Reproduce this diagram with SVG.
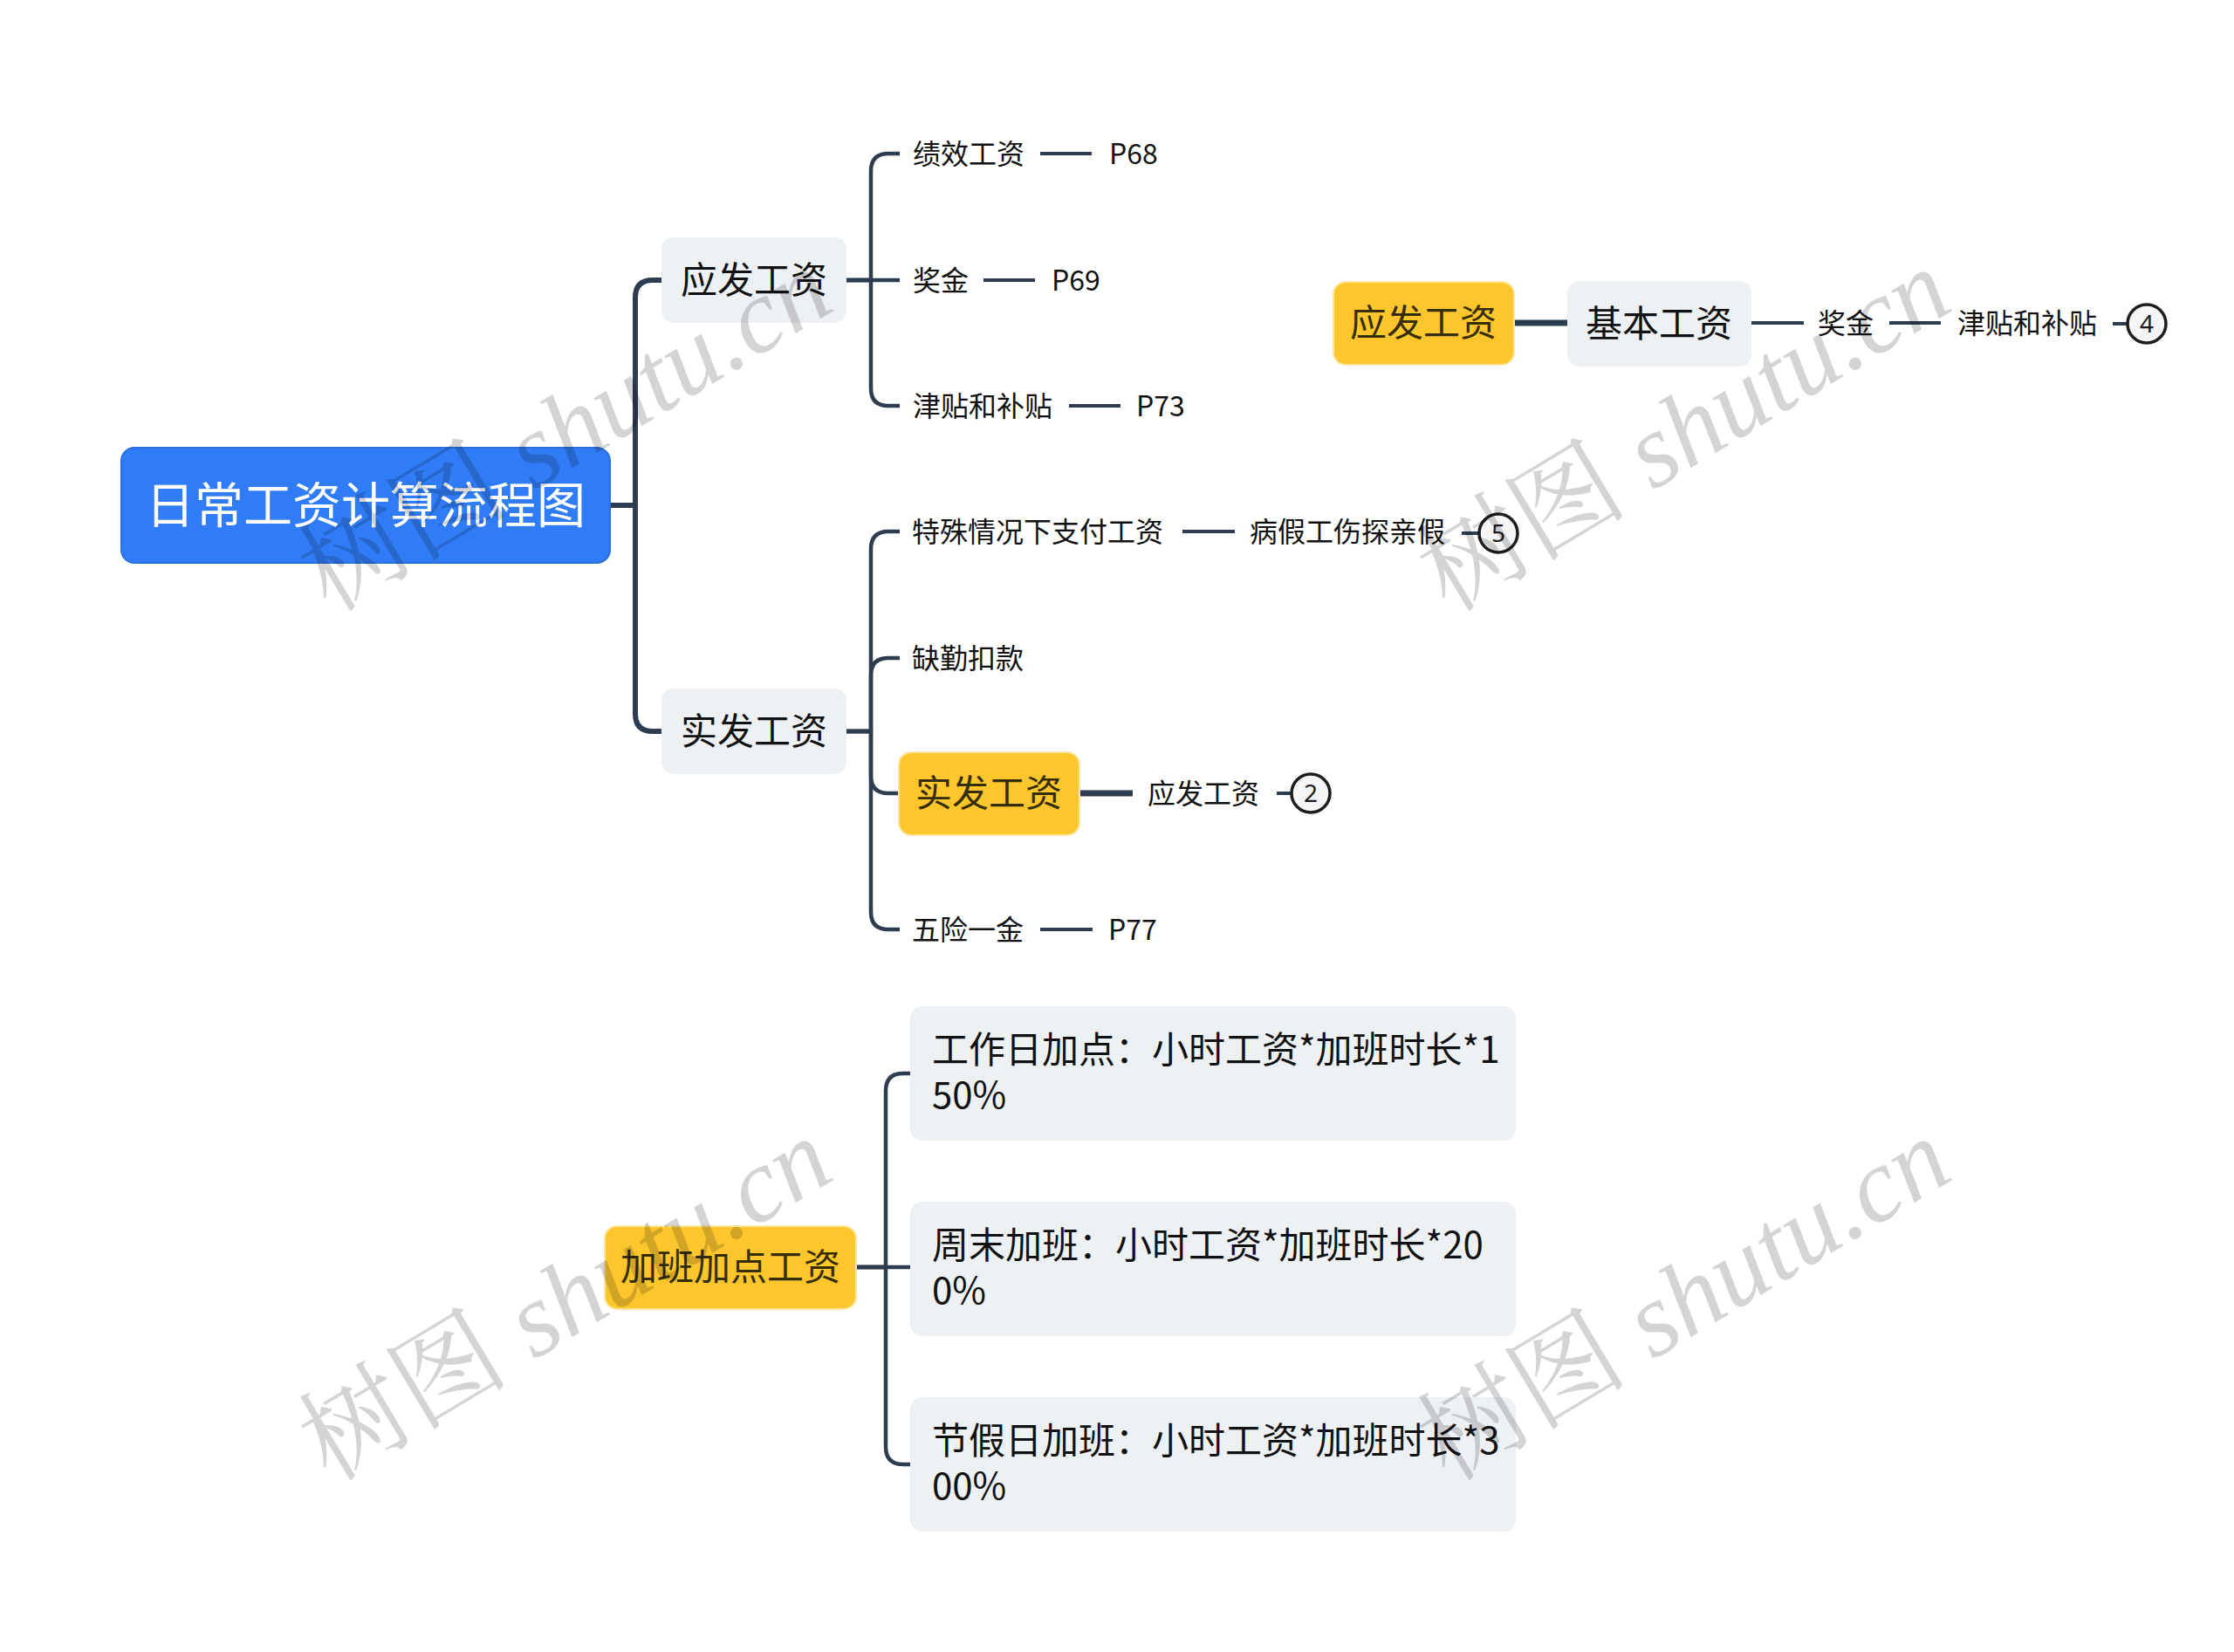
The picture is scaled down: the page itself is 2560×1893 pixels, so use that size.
<svg xmlns="http://www.w3.org/2000/svg" width="2560" height="1893" viewBox="0 0 2560 1893">
<defs>
<style>
.bg{fill:#ffffff}
.c{fill:none;stroke:#2e3c4f;stroke-linecap:butt;stroke-linejoin:round}
.c1{stroke-width:6}
.c2{stroke-width:4.5}
.c3{stroke-width:4}
.c4{stroke-width:7}
.t{font-family:"Noto Sans CJK SC","Microsoft YaHei",sans-serif;fill:#111111}
.leaf{font-size:32px}
.sub{font-size:42px}
.root{font-size:56px;fill:#ffffff}
.ylw{fill:#fdc62d;stroke:#fbe7a3;stroke-width:2}
.grey{fill:#eef1f4}
.ytext{fill:#362e08}
.circ{fill:#f4f5f6;stroke:#1d1d1d;stroke-width:3.5}
.num{font-family:"Noto Sans","Liberation Sans",sans-serif;font-size:28px;fill:#1d1d1d;text-anchor:middle}
.wm{font-family:"Liberation Serif","Noto Serif CJK SC","Noto Sans CJK SC",serif;font-size:121px;fill:#000000;fill-opacity:0.17}
</style>
</defs>
<rect class="bg" x="0" y="0" width="2560" height="1893"/>

<g id="connectors">
  <path class="c c1" d="M699 579 H728 V341 Q728 321 748 321 H758"/>
  <path class="c c1" d="M699 579 H728 V818 Q728 838 748 838 H758"/>
  <path class="c c2" d="M970 321 H998 V196 Q998 176 1018 176 H1031"/>
  <path class="c c2" d="M970 321 H1031"/>
  <path class="c c2" d="M970 321 H998 V445 Q998 465 1018 465 H1031"/>
  <path class="c c2" d="M970 838 H998 V629 Q998 609 1018 609 H1031"/>
  <path class="c c2" d="M970 838 H998 V774 Q998 754 1018 754 H1031"/>
  <path class="c c2" d="M970 838 H998 V889 Q998 909 1018 909 H1031"/>
  <path class="c c2" d="M970 838 H998 V1045 Q998 1065 1018 1065 H1031"/>
  <path class="c c3" d="M1192 176 H1251"/>
  <path class="c c3" d="M1127 321 H1186"/>
  <path class="c c3" d="M1225 465 H1284"/>
  <path class="c c3" d="M1355 609 H1415"/>
  <path class="c c3" d="M1675 611 H1695"/>
  <path class="c c4" d="M1237 909 H1298"/>
  <path class="c c3" d="M1463 909 H1480"/>
  <path class="c c3" d="M1192 1065 H1252"/>
  <path class="c c4" d="M1735 370 H1796"/>
  <path class="c c3" d="M2007 370 H2067"/>
  <path class="c c3" d="M2165 370 H2224"/>
  <path class="c c3" d="M2421 371 H2438"/>
  <path class="c c2" d="M981 1452 H1015 V1250 Q1015 1230 1035 1230 H1043"/>
  <path class="c c2" d="M981 1452 H1043"/>
  <path class="c c2" d="M981 1452 H1015 V1658 Q1015 1678 1035 1678 H1043"/>
</g>

<g id="root">
  <rect x="139" y="513" width="560" height="132" rx="15" fill="#2f7cf6" stroke="#2a6fdc" stroke-width="2"/>
  <text class="t root" x="419" y="599" text-anchor="middle">日常工资计算流程图</text>
</g>

<g id="n-yingfa">
  <rect class="grey" x="758" y="272" width="212" height="98" rx="14"/>
  <text class="t sub" x="864" y="336" text-anchor="middle">应发工资</text>
</g>
<g id="n-shifa">
  <rect class="grey" x="758" y="789" width="212" height="98" rx="14"/>
  <text class="t sub" x="864" y="853" text-anchor="middle">实发工资</text>
</g>

<g id="n-jixiao"><text class="t leaf" x="1046" y="188">绩效工资</text></g>
<g id="n-p68"><text class="t leaf" x="1271" y="188">P68</text></g>
<g id="n-jiangjin"><text class="t leaf" x="1046" y="333">奖金</text></g>
<g id="n-p69"><text class="t leaf" x="1205" y="333">P69</text></g>
<g id="n-jintie"><text class="t leaf" x="1046" y="477">津贴和补贴</text></g>
<g id="n-p73"><text class="t leaf" x="1302" y="477">P73</text></g>

<g id="n-teshu"><text class="t leaf" x="1045" y="621">特殊情况下支付工资</text></g>
<g id="n-bingjia"><text class="t leaf" x="1432" y="621">病假工伤探亲假</text></g>
<g id="n-c5"><circle class="circ" cx="1717" cy="611" r="22"/><text class="num" x="1717" y="621">5</text></g>
<g id="n-queqin"><text class="t leaf" x="1045" y="766">缺勤扣款</text></g>
<g id="n-shifa2">
  <rect class="ylw" x="1030" y="862" width="207" height="95" rx="14"/>
  <text class="t sub ytext" x="1133" y="924" text-anchor="middle">实发工资</text>
</g>
<g id="n-yingfa-leaf"><text class="t leaf" x="1315" y="921">应发工资</text></g>
<g id="n-c2"><circle class="circ" cx="1502" cy="909" r="22"/><text class="num" x="1502" y="919">2</text></g>
<g id="n-wuxian"><text class="t leaf" x="1045" y="1077">五险一金</text></g>
<g id="n-p77"><text class="t leaf" x="1270" y="1077">P77</text></g>

<g id="n-yingfa3">
  <rect class="ylw" x="1528" y="323" width="207" height="95" rx="14"/>
  <text class="t sub ytext" x="1631" y="385" text-anchor="middle">应发工资</text>
</g>
<g id="n-jiben">
  <rect class="grey" x="1796" y="322" width="211" height="98" rx="14"/>
  <text class="t sub" x="1901" y="386" text-anchor="middle">基本工资</text>
</g>
<g id="n-jiangjin2"><text class="t leaf" x="2083" y="382">奖金</text></g>
<g id="n-jintie2"><text class="t leaf" x="2243" y="382">津贴和补贴</text></g>
<g id="n-c4"><circle class="circ" cx="2460" cy="371" r="22"/><text class="num" x="2460" y="381">4</text></g>

<g id="n-jiaban">
  <rect class="ylw" x="693" y="1405" width="288" height="95" rx="14"/>
  <text class="t sub ytext" x="837" y="1467" text-anchor="middle">加班加点工资</text>
</g>
<g id="n-ot1">
  <rect class="grey" x="1043" y="1153" width="694" height="154" rx="14"/>
  <text class="t sub" x="1068" y="1218">工作日加点：小时工资*加班时长*1</text>
  <text class="t sub" x="1068" y="1270">50%</text>
</g>
<g id="n-ot2">
  <rect class="grey" x="1043" y="1377" width="694" height="154" rx="14"/>
  <text class="t sub" x="1068" y="1442">周末加班：小时工资*加班时长*20</text>
  <text class="t sub" x="1068" y="1494">0%</text>
</g>
<g id="n-ot3">
  <rect class="grey" x="1043" y="1601" width="694" height="154" rx="14"/>
  <text class="t sub" x="1068" y="1666">节假日加班：小时工资*加班时长*3</text>
  <text class="t sub" x="1068" y="1718">00%</text>
</g>

<g id="watermarks">
  <text class="wm" transform="translate(378 703) rotate(-31)">树图 <tspan font-style="italic">shutu.cn</tspan></text>
  <text class="wm" transform="translate(1660 703) rotate(-31)">树图 <tspan font-style="italic">shutu.cn</tspan></text>
  <text class="wm" transform="translate(378 1699) rotate(-31)">树图 <tspan font-style="italic">shutu.cn</tspan></text>
  <text class="wm" transform="translate(1660 1699) rotate(-31)">树图 <tspan font-style="italic">shutu.cn</tspan></text>
</g>
</svg>
